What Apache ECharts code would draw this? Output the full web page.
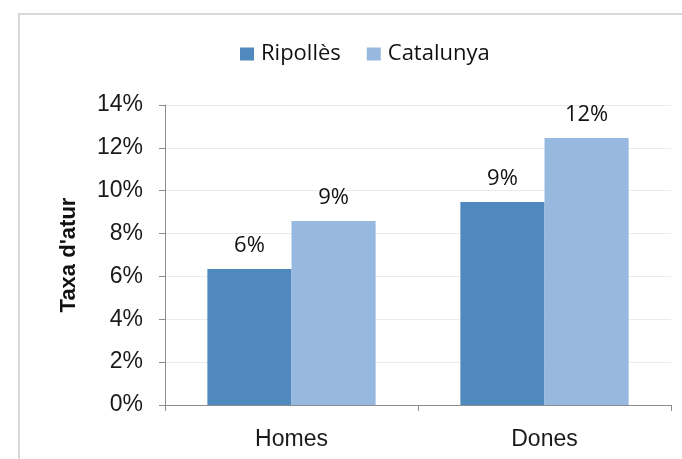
<!DOCTYPE html>
<html><head><meta charset="utf-8">
<script src="https://cdn.jsdelivr.net/npm/echarts@6/dist/echarts.min.js"></script>
<style>html,body{margin:0;padding:0;background:#fff}#c{width:682px;height:459px}</style>
</head><body><div id="c"></div>
<script>
const categories = ['Homes', 'Dones'];
const seriesNames = ['Ripollès', 'Catalunya'];
const ripolles = [6.35, 9.47];
const catalunya = [8.59, 12.46];
const ripollesLabels = ['6%', '9%'];
const catalunyaLabels = ['9%', '12%'];
const colors = ['#4f89bd', '#98b9df'];

const chart = echarts.init(document.getElementById('c'));
const labelFont = {fontFamily: 'Open Sans', fontSize: 22, color: '#111'};
chart.setOption({
  animation: false,
  graphic: [{type: 'rect', shape: {x: 19, y: 14, width: 700, height: 460}, style: {fill: 'none', stroke: '#d9d9d9', lineWidth: 2}, silent: true}],
  legend: {
    data: seriesNames, top: 38, left: 235, itemWidth: 14, itemHeight: 13, itemGap: 26,
    icon: 'rect',
    textStyle: {fontFamily: 'Open Sans', fontSize: 22, color: '#111', padding: [0, 0, 0, 2]}
  },
  grid: {left: 165, right: 11, top: 105, bottom: 54},
  xAxis: {
    type: 'category', data: categories,
    axisLine: {lineStyle: {color: '#8c8c8c'}},
    axisTick: {show: true, alignWithLabel: false, length: 6, lineStyle: {color: '#8c8c8c'}},
    axisLabel: {fontFamily: 'Liberation Sans', fontSize: 23, color: '#1a1a1a', margin: 23}
  },
  yAxis: {
    type: 'value', min: 0, max: 14, interval: 2,
    name: "Taxa d'atur", nameLocation: 'middle', nameGap: 85, nameRotate: 90,
    nameTextStyle: {fontFamily: 'Liberation Sans', fontWeight: 'bold', fontSize: 22, color: '#111'},
    axisLine: {show: true, lineStyle: {color: '#8c8c8c'}},
    axisTick: {show: true, length: 6, lineStyle: {color: '#8c8c8c'}},
    axisLabel: {fontFamily: 'Liberation Sans', fontSize: 23, color: '#1a1a1a', margin: 22, formatter: v => v + '%'},
    splitLine: {lineStyle: {color: '#ebebeb'}}
  },
  series: [
    {name: seriesNames[0], type: 'bar', data: ripolles, barGap: '0%', barCategoryGap: '33.5%',
     itemStyle: {color: colors[0]},
     label: {show: true, position: 'top', distance: 12, ...labelFont, formatter: p => ripollesLabels[p.dataIndex]}},
    {name: seriesNames[1], type: 'bar', data: catalunya, barGap: '0%', barCategoryGap: '33.5%',
     itemStyle: {color: colors[1]},
     label: {show: true, position: 'top', distance: 12, ...labelFont, formatter: p => catalunyaLabels[p.dataIndex]}}
  ]
});
</script></body></html>
